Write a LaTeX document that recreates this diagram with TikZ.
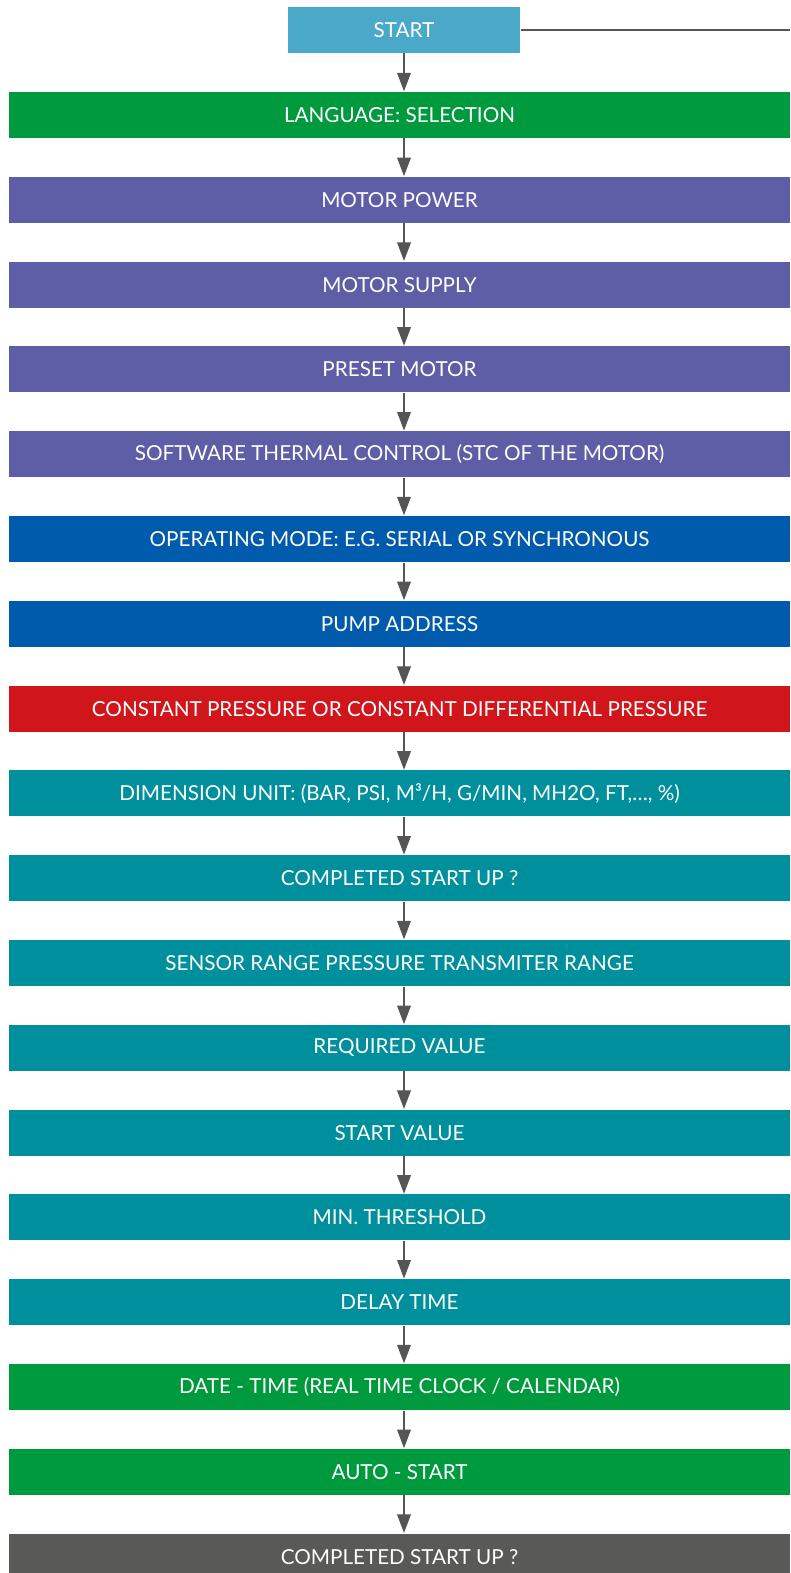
\documentclass[tikz,border=0pt]{standalone}
\usepackage{fontspec}
\setmainfont{Lato}
\usetikzlibrary{arrows.meta}

\definecolor{startblue}{RGB}{74,168,200}
\definecolor{stepgreen}{RGB}{0,154,62}
\definecolor{steppurple}{RGB}{94,94,166}
\definecolor{stepblue}{RGB}{0,91,172}
\definecolor{stepred}{RGB}{208,22,27}
\definecolor{stepteal}{RGB}{0,143,156}
\definecolor{stepgray}{RGB}{89,89,87}
\definecolor{linegray}{RGB}{85,85,85}

\tikzset{every picture/.style={line width=0.75pt}}
\tikzset{
  stepbox/.style={minimum width=585.75pt, minimum height=34.5pt, inner sep=0pt, text=white, font=\fontsize{15.5}{18}\selectfont},
  flow/.style={draw=linegray, line width=1.8pt, -{Triangle[length=14pt,width=10pt]}}
}

\begin{document}
\begin{tikzpicture}[x=0.75pt,y=0.75pt,yscale=-1,xscale=1]
\useasboundingbox (0,0) rectangle (790,1573);

% Start box and side line
\node [stepbox, fill=startblue, minimum width=174pt] (start) at (404,30) {START};
\coordinate (rightend) at (790,30);
\draw [linegray, line width=1.6pt] (start.east) -- (rightend);

% Steps
\node [stepbox, fill=stepgreen]  (lang)    at (399.5,115)    {LANGUAGE: SELECTION};
\node [stepbox, fill=steppurple] (mpower)  at (399.5,199.8)  {MOTOR POWER};
\node [stepbox, fill=steppurple] (msupply) at (399.5,284.6)  {MOTOR SUPPLY};
\node [stepbox, fill=steppurple] (preset)  at (399.5,369.4)  {PRESET MOTOR};
\node [stepbox, fill=steppurple] (stc)     at (399.5,454.2)  {SOFTWARE THERMAL CONTROL (STC OF THE MOTOR)};
\node [stepbox, fill=stepblue]   (opmode)  at (399.5,539)    {OPERATING MODE: E.G. SERIAL OR SYNCHRONOUS};
\node [stepbox, fill=stepblue]   (paddr)   at (399.5,623.8)  {PUMP ADDRESS};
\node [stepbox, fill=stepred]    (cpress)  at (399.5,708.6)  {CONSTANT PRESSURE OR CONSTANT DIFFERENTIAL PRESSURE};
\node [stepbox, fill=stepteal]   (dunit)   at (399.5,793.4)  {DIMENSION UNIT: (BAR, PSI, M³/H, G/MIN, MH2O, FT,…, \%)};
\node [stepbox, fill=stepteal]   (done1)   at (399.5,878.2)  {COMPLETED START UP ?};
\node [stepbox, fill=stepteal]   (srange)  at (399.5,963)    {SENSOR RANGE PRESSURE TRANSMITER RANGE};
\node [stepbox, fill=stepteal]   (reqval)  at (399.5,1047.8) {REQUIRED VALUE};
\node [stepbox, fill=stepteal]   (stval)   at (399.5,1132.6) {START VALUE};
\node [stepbox, fill=stepteal]   (minth)   at (399.5,1217.4) {MIN. THRESHOLD};
\node [stepbox, fill=stepteal]   (delay)   at (399.5,1302.2) {DELAY TIME};
\node [stepbox, fill=stepgreen]  (rtc)     at (399.5,1387)   {DATE - TIME (REAL TIME CLOCK / CALENDAR)};
\node [stepbox, fill=stepgreen]  (astart)  at (399.5,1471.8) {AUTO - START};
\node [stepbox, fill=stepgray]   (done2)   at (399.5,1556.6) {COMPLETED START UP ?};

% Arrows
\draw [flow] (start.south) -- (lang.north -| start.south);
\draw [flow] (lang.south -| start.south) -- (mpower.north -| start.south);
\draw [flow] (mpower.south -| start.south) -- (msupply.north -| start.south);
\draw [flow] (msupply.south -| start.south) -- (preset.north -| start.south);
\draw [flow] (preset.south -| start.south) -- (stc.north -| start.south);
\draw [flow] (stc.south -| start.south) -- (opmode.north -| start.south);
\draw [flow] (opmode.south -| start.south) -- (paddr.north -| start.south);
\draw [flow] (paddr.south -| start.south) -- (cpress.north -| start.south);
\draw [flow] (cpress.south -| start.south) -- (dunit.north -| start.south);
\draw [flow] (dunit.south -| start.south) -- (done1.north -| start.south);
\draw [flow] (done1.south -| start.south) -- (srange.north -| start.south);
\draw [flow] (srange.south -| start.south) -- (reqval.north -| start.south);
\draw [flow] (reqval.south -| start.south) -- (stval.north -| start.south);
\draw [flow] (stval.south -| start.south) -- (minth.north -| start.south);
\draw [flow] (minth.south -| start.south) -- (delay.north -| start.south);
\draw [flow] (delay.south -| start.south) -- (rtc.north -| start.south);
\draw [flow] (rtc.south -| start.south) -- (astart.north -| start.south);
\draw [flow] (astart.south -| start.south) -- (done2.north -| start.south);

\end{tikzpicture}
\end{document}
